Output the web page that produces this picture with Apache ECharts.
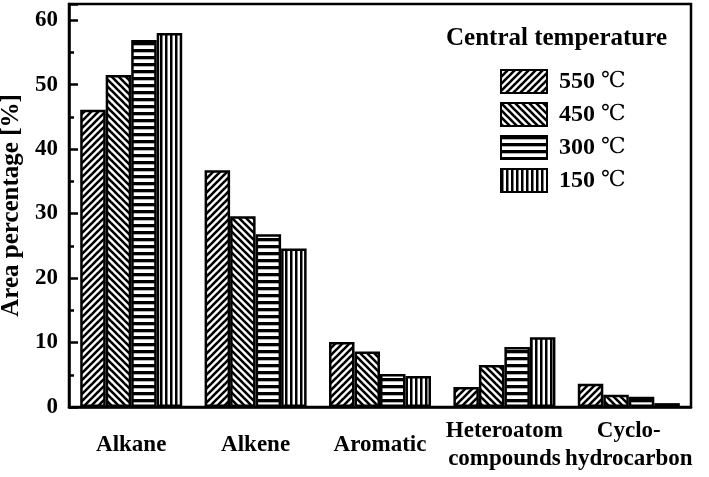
<!DOCTYPE html>
<html>
<head>
<meta charset="utf-8">
<script src="https://cdn.jsdelivr.net/npm/echarts@6/dist/echarts.min.js"></script>
<style>html,body{margin:0;padding:0;background:#fff;}#c{width:709px;height:477px;}</style>
</head>
<body>
<div id="c"></div>
<script>
var categories = ['Alkane', 'Alkene', 'Aromatic', 'Heteroatom\ncompounds', 'Cyclo-\nhydrocarbon'];
var seriesNames = ['550 ℃', '450 ℃', '300 ℃', '150 ℃'];
var s550 = [46.1, 36.7, 10.1, 3.1, 3.6];
var s450 = [51.5, 29.6, 8.6, 6.5, 1.9];
var s300 = [56.9, 26.8, 5.1, 9.3, 1.6];
var s150 = [58.0, 24.6, 4.8, 10.8, 0.6];
var yTicks = [0, 10, 20, 30, 40, 50, 60];

var FONT = '"Liberation Serif", "Times New Roman", serif';

function makePattern(kind) {
  var c = document.createElement('canvas');
  var w, h;
  if (kind === 'fwd' || kind === 'back') { w = 7; h = 7; }
  else if (kind === 'hor') { w = 4; h = 7; }
  else { w = 5; h = 4; }
  c.width = w; c.height = h;
  var g = c.getContext('2d');
  g.fillStyle = '#fff'; g.fillRect(0, 0, w, h);
  g.fillStyle = '#000'; g.strokeStyle = '#000';
  if (kind === 'fwd') {
    g.lineWidth = 2.6;
    for (var k = -1; k <= 1; k++) {
      g.beginPath(); g.moveTo(k * w - 1, h + 1); g.lineTo(k * w + w + 1, -1); g.stroke();
    }
  } else if (kind === 'back') {
    g.lineWidth = 2.6;
    for (var k2 = -1; k2 <= 1; k2++) {
      g.beginPath(); g.moveTo(k2 * w - 1, -1); g.lineTo(k2 * w + w + 1, h + 1); g.stroke();
    }
  } else if (kind === 'hor') {
    g.fillRect(0, 0, w, 3.3);
  } else {
    g.fillRect(0, 0, 2.5, h);
  }
  return { image: c, repeat: 'repeat' };
}

var patterns = [makePattern('fwd'), makePattern('back'), makePattern('hor'), makePattern('ver')];
var dataSets = [s550, s450, s300, s150];

var chart = echarts.init(document.getElementById('c'), null, { renderer: 'canvas' });

var series = dataSets.map(function (d, i) {
  return {
    name: seriesNames[i],
    type: 'bar',
    data: d,
    barGap: '0%',
    barCategoryGap: '18%',
    itemStyle: { color: patterns[i], borderColor: '#000', borderWidth: 2.5 },
    emphasis: { disabled: true },
    animation: false
  };
});

chart.setOption({
  animation: false,
  backgroundColor: '#fff',
  textStyle: { fontFamily: FONT },
  grid: {
    left: 69, right: 18, top: 4, bottom: 70,
    containLabel: false,
    outerBoundsMode: 'none',
    show: true, borderColor: '#000', borderWidth: 2.5, backgroundColor: 'transparent'
  },
  graphic: [{
    type: 'text',
    left: 446, top: 26,
    style: { text: 'Central temperature', font: 'bold 25px ' + FONT, fill: '#000' }
  }],
  legend: {
    orient: 'vertical',
    left: 500, top: 69, padding: 0,
    itemWidth: 46, itemHeight: 23, itemGap: 8,
    icon: 'rect',
    data: seriesNames,
    formatter: function (n) { return n.replace(' ℃', ' {u|℃}'); },
    textStyle: {
      fontFamily: FONT, fontSize: 24, fontWeight: 'bold', color: '#000', padding: [0, 0, 0, 7],
      rich: { u: { fontFamily: '"DejaVu Serif", serif', fontWeight: 'normal', fontSize: 22, color: '#000' } }
    },
    selectedMode: false
  },
  xAxis: {
    type: 'category',
    data: categories,
    axisLine: { show: true, lineStyle: { color: '#000', width: 2.5 } },
    axisTick: { show: false },
    axisLabel: {
      interval: 0, fontFamily: FONT, fontSize: 23, fontWeight: 'bold', color: '#000',
      lineHeight: 28, verticalAlign: 'middle', margin: 38
    },
    splitLine: { show: false }
  },
  yAxis: {
    type: 'value',
    min: 0, max: 62.5, interval: 10,
    name: 'Area percentage [%]',
    nameLocation: 'middle',
    nameGap: 39,
    nameTextStyle: { fontFamily: FONT, fontSize: 25, fontWeight: 'bold', color: '#000' },
    axisLine: { show: true, lineStyle: { color: '#000', width: 2.5 } },
    axisTick: { show: true, inside: true, length: 9, lineStyle: { color: '#000', width: 2.5 } },
    minorTick: { show: true, splitNumber: 2, length: 5, lineStyle: { color: '#000', width: 2.5 } },
    axisLabel: {
      fontFamily: FONT, fontSize: 23, fontWeight: 'bold', color: '#000', margin: 11,
      showMaxLabel: false,
      formatter: function (v) { return yTicks.indexOf(v) >= 0 ? String(v) : ''; }
    },
    splitLine: { show: false }
  },
  series: series
});
</script>
</body>
</html>
